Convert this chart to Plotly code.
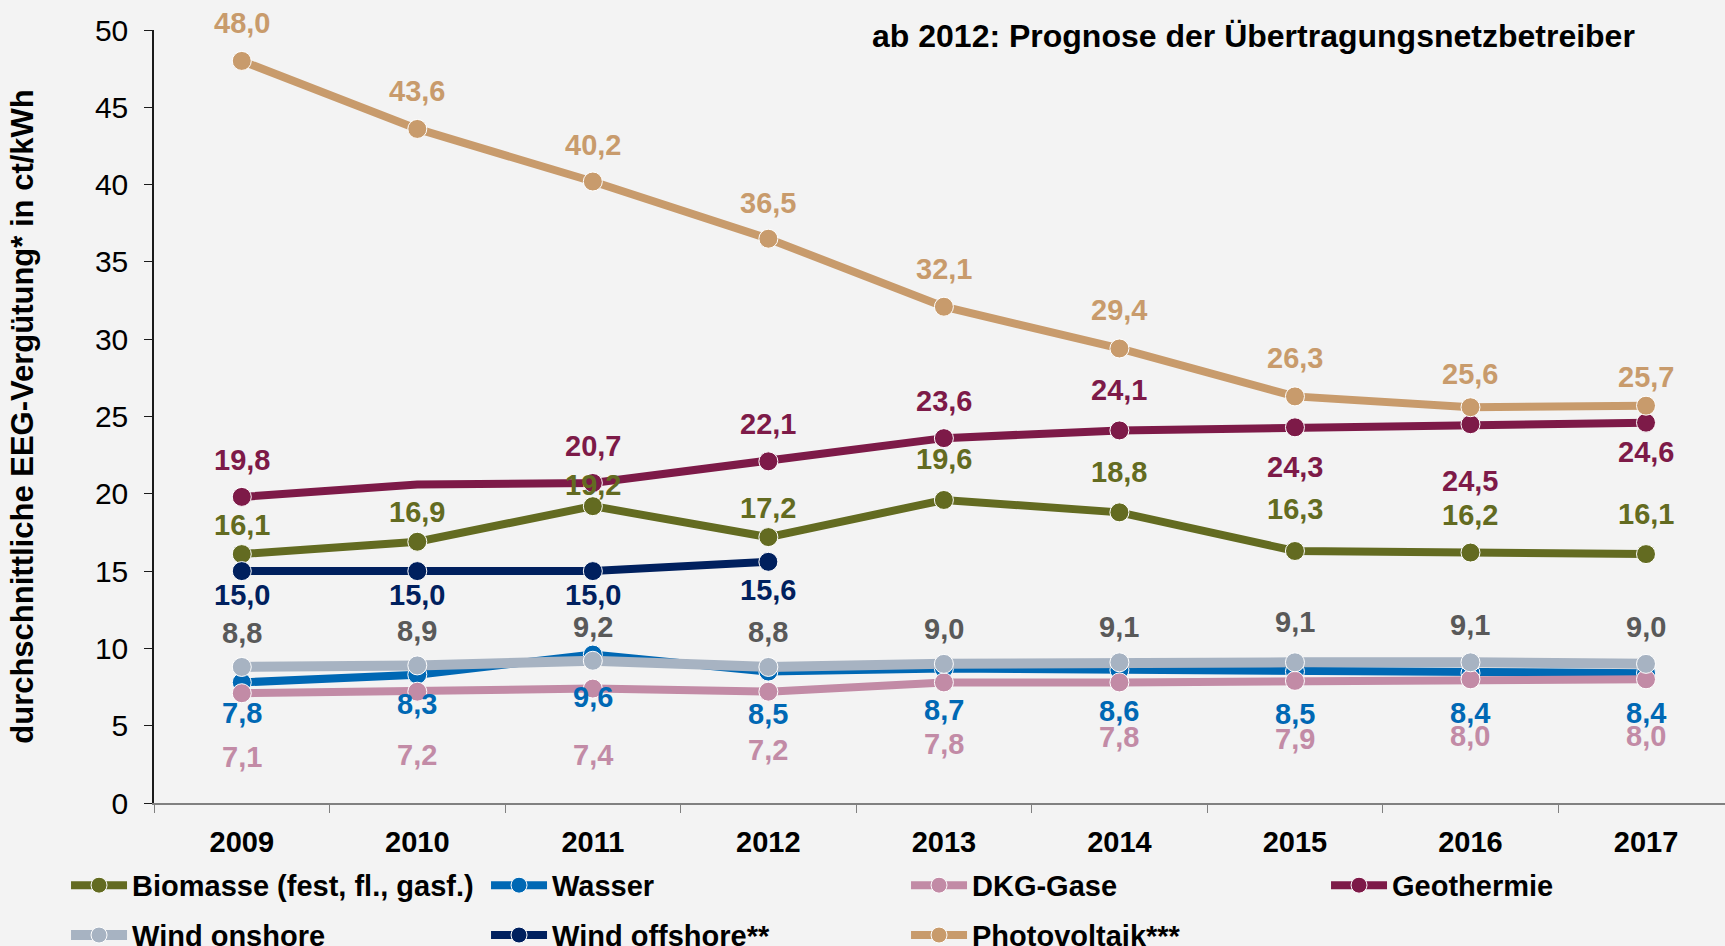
import plotly.graph_objects as go

# Jahre der Auswertung
years = ["2009", "2010", "2011", "2012", "2013", "2014", "2015", "2016", "2017"]

# Durchschnittliche EEG-Vergütung in ct/kWh je Energieträger
biomasse = [16.1, 16.9, 19.2, 17.2, 19.6, 18.8, 16.3, 16.2, 16.1]
wasser = [7.8, 8.3, 9.6, 8.5, 8.7, 8.6, 8.5, 8.4, 8.4]
dkg_gase = [7.1, 7.2, 7.4, 7.2, 7.8, 7.8, 7.9, 8.0, 8.0]
geothermie = [19.8, 20.6, 20.7, 22.1, 23.6, 24.1, 24.3, 24.5, 24.6]
wind_onshore = [8.8, 8.9, 9.2, 8.8, 9.0, 9.1, 9.1, 9.1, 9.0]
wind_offshore = [15.0, 15.0, 15.0, 15.6]
photovoltaik = [48.0, 43.6, 40.2, 36.5, 32.1, 29.4, 26.3, 25.6, 25.7]

# Darstellung: Farbe der Linie, Farbe der Werte, Linienstärke, Legende,
# vertikaler Versatz der Wertebeschriftung in Pixeln (None = ohne Punkt/Beschriftung)
series = [
    ("Biomasse (fest, fl., gasf.)", biomasse, "#636B21", "#636B21", 8, "legend",
     [29, 30, 21, 29, 41, 40, 42, 38, 40]),
    ("Wasser", wasser, "#0068B4", "#0068B4", 8, "legend",
     [-31, -29, -42, -42, -41, -41, -42, -40, -40]),
    ("DKG-Gase", dkg_gase, "#C28BA6", "#C28BA6", 8, "legend",
     [-64, -63, -66, -58, -62, -55, -58, -57, -57]),
    ("Geothermie", geothermie, "#7D1A48", "#7D1A48", 8, "legend",
     [37, None, 37, 37, 37, 40, -40, -57, -29]),
    ("Wind onshore", wind_onshore, "#A7B3C2", "#595959", 10, "legend2",
     [34, 34, 34, 35, 35, 35, 40, 37, 37]),
    ("Wind offshore**", wind_offshore, "#00205E", "#00205E", 8, "legend2",
     [-24, -24, -24, -28]),
    ("Photovoltaik***", photovoltaik, "#C89B6C", "#C89B6C", 8, "legend2",
     [38, 38, 37, 36, 38, 38, 38, 33, 29]),
]

FONT = "Liberation Sans, Arial, sans-serif"
BG = "#F3F3F3"

fig = go.Figure()
annotations = []
for name, values, color, label_color, width, legend, shifts in series:
    xs = years[:len(values)]
    sizes = [0 if s is None else 19 for s in shifts]
    fig.add_trace(go.Scatter(
        x=xs, y=values, name=name, mode="lines+markers",
        line=dict(color=color, width=width),
        marker=dict(color=color, size=sizes, opacity=1),
        legend=legend, hoverinfo="x+y+name",
    ))
    # Wertebeschriftung; auf der Kategorienachse über den Index positioniert
    for i, (v, s) in enumerate(zip(values, shifts)):
        if s is None:
            continue
        annotations.append(dict(
            x=i, y=v, xref="x", yref="y", yshift=s,
            text=f"<b>{v:.1f}</b>".replace(".", ","), showarrow=False,
            xanchor="center", yanchor="middle",
            font=dict(family=FONT, size=29, color=label_color),
        ))

annotations.append(dict(
    x=0.6996, y=0.992, xref="paper", yref="paper",
    text="<b>ab 2012: Prognose der Übertragungsnetzbetreiber</b>",
    showarrow=False, xanchor="center", yanchor="middle",
    font=dict(family=FONT, size=32, color="#000000"),
))

legend_style = dict(
    orientation="h", xanchor="left", yanchor="middle",
    entrywidth=349, entrywidthmode="pixels", itemwidth=56,
    bgcolor="rgba(0,0,0,0)", borderwidth=0,
    font=dict(family=FONT, size=29, color="#000000", weight="bold"),
    traceorder="normal",
)

fig.update_layout(
    width=1725, height=946,
    margin=dict(l=154, r=0, t=30, b=143, autoexpand=False),
    paper_bgcolor=BG, plot_bgcolor=BG,
    showlegend=True,
    legend=dict(x=-0.056, y=-0.1065, **legend_style),
    legend2=dict(x=-0.056, y=-0.171, **legend_style),
    annotations=annotations,
    xaxis=dict(
        type="category", range=[-0.5, 8.45],
        showline=True, linecolor="#808080", linewidth=1.5,
        ticks="outside", tickson="boundaries", ticklen=8, tickcolor="#808080",
        showgrid=False, zeroline=False,
        tickfont=dict(family=FONT, size=29, color="#000000", weight="bold"),
        ticklabelstandoff=12,
    ),
    yaxis=dict(
        range=[0, 50], dtick=5, tick0=0,
        showline=True, linecolor="#1a1a1a", linewidth=1.5,
        ticks="outside", ticklen=8, tickcolor="#1a1a1a",
        showgrid=False, zeroline=False,
        tickfont=dict(family=FONT, size=30, color="#000000"),
        ticklabelstandoff=10,
        title=dict(
            text="durchschnittliche EEG-Vergütung* in ct/kWh",
            font=dict(family=FONT, size=31, color="#000000", weight="bold"),
            standoff=52,
        ),
        automargin=False,
    ),
)

fig.write_html("out.html")
